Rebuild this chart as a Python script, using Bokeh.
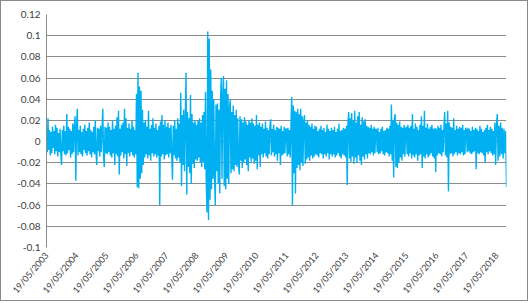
import numpy as np
import pandas as pd
from bokeh.plotting import figure
from bokeh.models import FixedTicker, DatetimeTickFormatter, CustomJSTickFormatter, Range1d
from bokeh.embed import file_html
from bokeh.resources import INLINE

# Daily returns (one list per year, starting 19/05 each year)
r2003 = [0.012, -0.010, 0.022, -0.008, 0.011, -0.013, 0.009, -0.011, 0.014, -0.006,
         0.010, -0.012, 0.016, -0.009, 0.013, -0.014, 0.008, -0.010, 0.012, -0.011,
         -0.022, 0.011, -0.009, 0.015, -0.012, 0.010, -0.013, 0.026, -0.011, 0.014,
         -0.008, 0.012, -0.015, 0.010, -0.012, 0.017, -0.010, 0.013, 0.024, -0.037]
r2004 = [0.014, 0.031, -0.013, 0.011, -0.010, 0.015, -0.012, 0.009, -0.014, 0.012,
         -0.008, 0.016, -0.011, 0.010, -0.013, 0.013, -0.009, 0.018, -0.012, 0.011,
         -0.015, 0.009, -0.010, 0.014, -0.012, 0.020, -0.011, -0.022, 0.013, -0.009,
         0.012, -0.014, 0.015, -0.010, 0.011, 0.031, -0.013, -0.024, 0.014, -0.011]
r2005 = [0.013, -0.012, 0.018, -0.010, 0.014, -0.013, 0.011, -0.015, 0.020, -0.011,
         0.012, -0.022, 0.015, -0.012, 0.023, -0.014, 0.029, -0.031, 0.012, -0.013,
         0.016, -0.010, 0.018, -0.016, 0.031, -0.012, 0.022, -0.023, 0.013, -0.011,
         0.017, -0.014, 0.012, -0.010, 0.020, -0.013, 0.014, -0.015, 0.011, -0.012]
r2006 = [0.045, -0.043, 0.065, -0.044, 0.052, -0.035, 0.048, -0.030, 0.030, -0.022,
         0.018, -0.015, 0.020, -0.012, 0.014, -0.016, 0.029, -0.013, 0.012, -0.018,
         0.016, -0.011, 0.022, -0.014, 0.013, -0.012, 0.017, -0.015, 0.011, -0.013,
         0.015, -0.060, 0.019, -0.014, 0.025, -0.012, 0.016, -0.017, 0.020, -0.013]
r2007 = [0.014, -0.012, 0.018, -0.015, 0.013, -0.011, 0.016, -0.014, -0.036, 0.015,
         -0.013, 0.020, -0.016, 0.012, -0.018, 0.022, -0.015, 0.017, -0.020, 0.046,
         -0.042, 0.025, -0.022, 0.030, -0.028, 0.020, 0.065, -0.050, 0.028, -0.024,
         0.022, -0.030, 0.044, -0.040, 0.026, -0.021, 0.018, -0.025, 0.020, -0.017]
r2008 = [0.016, -0.018, 0.020, -0.015, 0.022, -0.020, 0.018, -0.024, 0.025, -0.019,
         0.028, -0.026, 0.047, -0.038, -0.067, 0.104, -0.074, 0.097, -0.055, 0.068,
         -0.045, 0.048, -0.035, 0.040, -0.030, -0.060, 0.035, -0.028, 0.036, -0.040,
         0.030, -0.049, 0.038, 0.060, -0.035, 0.045, 0.062, -0.042, 0.050, -0.045]
r2009 = [0.058, -0.035, 0.045, -0.040, 0.032, 0.040, -0.030, 0.028, -0.026, 0.034,
         -0.028, 0.025, -0.022, 0.030, -0.024, 0.022, -0.020, -0.031, 0.024, -0.018,
         0.021, -0.025, 0.018, -0.020, 0.023, -0.017, 0.019, -0.022, 0.016, -0.028,
         0.020, -0.015, 0.018, -0.019, 0.022, -0.016, 0.017, -0.021, 0.015, -0.018]
r2010 = [0.025, -0.026, 0.016, -0.013, 0.018, -0.024, 0.014, -0.012, 0.017, -0.015,
         0.012, -0.011, 0.019, -0.014, 0.013, -0.016, 0.011, -0.012, 0.015, 0.021,
         -0.013, 0.012, -0.010, 0.016, -0.014, 0.011, -0.012, 0.014, -0.018, 0.013,
         -0.011, 0.012, -0.022, 0.015, -0.013, 0.010, -0.012, 0.014, -0.011, 0.012]
r2011 = [0.012, -0.014, 0.013, -0.012, 0.011, -0.015, 0.014, 0.042, -0.060, 0.034,
         -0.030, 0.029, -0.049, 0.028, -0.025, 0.031, -0.022, 0.026, -0.027, 0.031,
         -0.020, 0.024, -0.023, 0.019, 0.025, -0.021, 0.018, -0.017, 0.020, -0.015,
         0.016, -0.018, 0.014, -0.013, 0.017, -0.016, 0.012, -0.014, 0.015, -0.012]
r2012 = [0.014, -0.013, 0.010, -0.015, 0.012, -0.011, 0.015, -0.012, 0.011, -0.016,
         0.013, -0.012, 0.009, -0.014, 0.016, -0.011, 0.012, -0.017, 0.010, -0.012,
         0.013, -0.014, 0.011, -0.012, 0.014, -0.015, 0.009, -0.013, 0.012, -0.011,
         0.017, -0.014, 0.010, -0.016, 0.011, -0.012, 0.013, -0.013, 0.012, -0.015]
r2013 = [0.015, -0.041, 0.018, 0.028, -0.016, 0.022, -0.019, 0.027, -0.014, 0.020,
         -0.021, 0.029, -0.015, 0.018, -0.020, 0.024, -0.013, 0.028, -0.018, 0.016,
         -0.022, 0.023, -0.014, 0.019, -0.017, 0.021, -0.012, 0.015, -0.016, 0.014,
         -0.011, 0.013, -0.012, 0.016, -0.010, 0.012, -0.013, 0.014, -0.011, 0.012]
r2014 = [0.011, -0.010, 0.013, -0.012, 0.009, -0.011, 0.012, -0.009, 0.014, -0.012,
         0.010, -0.013, 0.011, -0.010, 0.013, -0.011, 0.012, -0.014, 0.015, -0.012,
         0.035, -0.018, 0.020, -0.034, 0.022, 0.026, -0.024, 0.018, -0.025, 0.016,
         -0.020, 0.019, -0.015, 0.014, -0.018, 0.013, -0.012, 0.016, -0.014, 0.012]
r2015 = [0.014, -0.012, 0.016, -0.014, 0.013, -0.011, 0.015, -0.016, 0.026, -0.013,
         0.012, -0.015, 0.017, -0.012, 0.014, -0.018, 0.011, -0.013, 0.016, -0.012,
         0.024, -0.025, 0.015, -0.014, 0.029, -0.016, 0.013, -0.012, 0.017, -0.015,
         0.012, -0.013, 0.014, -0.011, 0.016, -0.014, 0.012, -0.016, 0.013, -0.029]
r2016 = [0.012, -0.013, 0.015, -0.011, 0.013, -0.012, 0.016, -0.014, 0.011, -0.010,
         0.014, 0.028, -0.013, 0.017, -0.015, 0.029, -0.047, 0.018, -0.012, 0.014,
         -0.011, 0.013, -0.014, 0.022, -0.012, 0.011, -0.010, 0.015, -0.013, 0.012,
         -0.011, 0.014, -0.012, 0.013, -0.010, 0.016, -0.013, 0.011, -0.012, 0.013]
r2017 = [0.011, -0.010, 0.013, -0.009, 0.012, -0.011, 0.010, -0.012, 0.014, -0.010,
         0.011, -0.009, 0.013, -0.026, 0.012, -0.011, 0.010, -0.012, 0.015, -0.010,
         0.012, -0.011, 0.009, -0.013, 0.011, -0.020, 0.013, -0.010, 0.016, -0.012,
         0.011, -0.009, 0.014, -0.011, 0.012, -0.013, 0.010, -0.012, 0.018, -0.022]
r2018 = [0.014, 0.026, -0.018, 0.015, -0.014, 0.018, -0.012, 0.013, -0.016, 0.012,
         -0.011, 0.010, -0.043]

x_tick_labels = ["19/05/2003", "19/05/2004", "19/05/2005", "19/05/2006",
                 "19/05/2007", "19/05/2008", "19/05/2009", "19/05/2010",
                 "19/05/2011", "19/05/2012", "19/05/2013", "19/05/2014",
                 "19/05/2015", "19/05/2016", "19/05/2017", "19/05/2018"]
last_date = "19/09/2018"
y_ticks = [-0.1, -0.08, -0.06, -0.04, -0.02, 0.0, 0.02, 0.04, 0.06, 0.08, 0.1, 0.12]

series = [r2003, r2004, r2005, r2006, r2007, r2008, r2009, r2010,
          r2011, r2012, r2013, r2014, r2015, r2016, r2017, r2018]

tick_dates = [pd.to_datetime(s, format="%d/%m/%Y") for s in x_tick_labels]
end_ts = pd.to_datetime(last_date, format="%d/%m/%Y")

xs, ys = [], []
for i, vals in enumerate(series):
    start = tick_dates[i]
    if i + 1 < len(tick_dates):
        stop = tick_dates[i + 1]
        d = pd.to_datetime(np.linspace(start.value, stop.value, len(vals), endpoint=False))
    else:
        d = pd.to_datetime(np.linspace(start.value, end_ts.value, len(vals), endpoint=True))
    xs.extend(list(d))
    ys.extend(vals)

p = figure(width=528, height=301, x_axis_type="datetime",
           output_backend="svg", toolbar_location=None,
           x_range=Range1d(tick_dates[0], end_ts), y_range=Range1d(-0.1, 0.12),
           min_border_left=45, min_border_right=23, min_border_top=13, min_border_bottom=55)
p.styles = {"border": "1px solid #8a8a8a"}
p.outline_line_color = None
p.background_fill_color = "white"
p.border_fill_color = "white"

p.line(xs, ys, line_color="#00b0f0", line_width=1.4)

grid_col = "#8c8c8c"
p.xgrid.grid_line_color = None
p.ygrid.grid_line_color = grid_col
p.ygrid.grid_line_width = 1
p.yaxis.ticker = FixedTicker(ticks=y_ticks)
p.ygrid.ticker = FixedTicker(ticks=y_ticks)
p.yaxis.formatter = CustomJSTickFormatter(code="""
    let s = tick.toFixed(2);
    s = s.replace(/0+$/, '').replace(/\\.$/, '');
    if (s === '-0') s = '0';
    return s;
""")
p.yaxis.axis_line_color = grid_col
p.yaxis.major_tick_line_color = None
p.yaxis.minor_tick_line_color = None
p.yaxis.major_tick_out = 0
p.yaxis.major_tick_in = 0
p.yaxis.major_label_standoff = 6
p.yaxis.major_label_text_font = "Lato"
p.yaxis.major_label_text_font_size = "10px"
p.yaxis.major_label_text_color = "#404040"

p.xaxis.ticker = FixedTicker(ticks=[t.value / 1e6 for t in tick_dates])
fmt = "%d/%m/%Y"
p.xaxis.formatter = DatetimeTickFormatter(
    microseconds=fmt, milliseconds=fmt, seconds=fmt, minsec=fmt, minutes=fmt,
    hourmin=fmt, hours=fmt, days=fmt, months=fmt, years=fmt)
p.xaxis.major_label_orientation = 0.87
p.xaxis.axis_line_color = None
p.xaxis.major_tick_line_color = None
p.xaxis.minor_tick_line_color = None
p.xaxis.major_tick_out = 0
p.xaxis.major_tick_in = 0
p.xaxis.major_label_standoff = 6
p.xaxis.major_label_text_font = "Lato"
p.xaxis.major_label_text_font_size = "9px"
p.xaxis.major_label_text_color = "#404040"

open("out.html", "w").write(file_html(p, INLINE))
